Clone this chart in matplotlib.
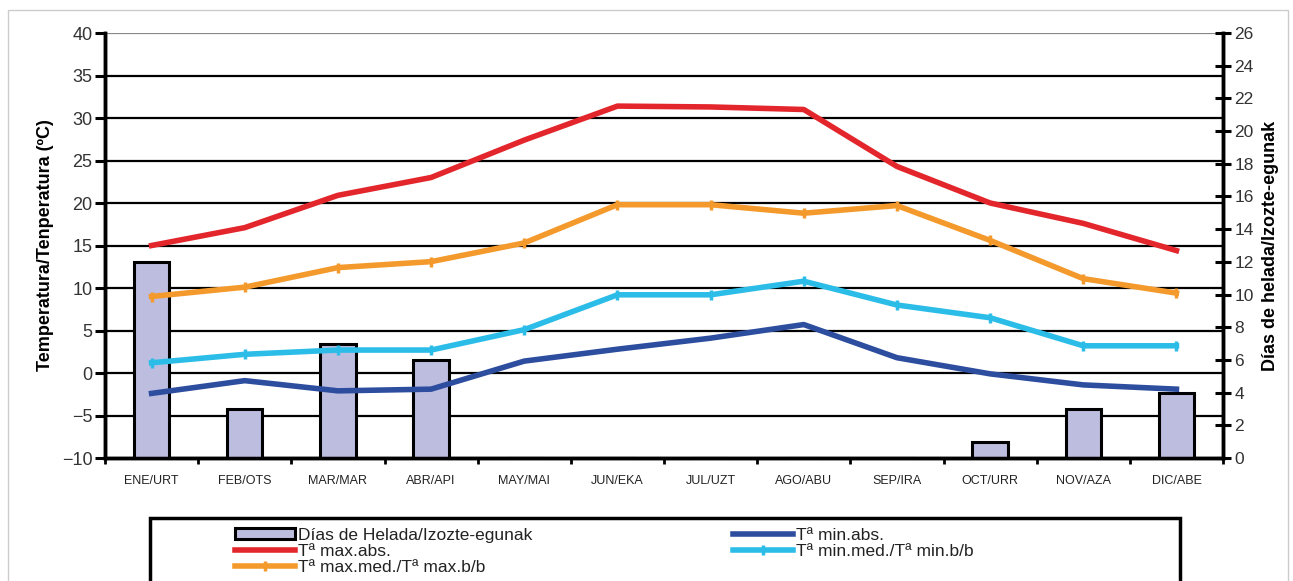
import numpy as np
import matplotlib.pyplot as plt
from matplotlib.patches import Rectangle

plt.rcParams['font.family'] = ['Liberation Sans', 'DejaVu Sans']

# Months (Spanish/Basque)
months = ['ENE/URT', 'FEB/OTS', 'MAR/MAR', 'ABR/API', 'MAY/MAI', 'JUN/EKA',
          'JUL/UZT', 'AGO/ABU', 'SEP/IRA', 'OCT/URR', 'NOV/AZA', 'DIC/ABE']

# Frost days (right axis)
frost_days = [12, 3, 7, 6, 0, 0, 0, 0, 0, 1, 3, 4]

# Temperatures (left axis)
t_max_abs = [15.0, 17.1, 20.9, 23.0, 27.4, 31.4, 31.3, 31.0, 24.3, 20.0, 17.6, 14.4]
t_max_med = [9.0, 10.1, 12.4, 13.1, 15.3, 19.8, 19.8, 18.8, 19.7, 15.6, 11.1, 9.4]
t_min_med = [1.2, 2.2, 2.7, 2.7, 5.1, 9.2, 9.2, 10.8, 8.0, 6.5, 3.2, 3.2]
t_min_abs = [-2.4, -0.9, -2.1, -1.9, 1.4, 2.8, 4.1, 5.7, 1.8, -0.1, -1.4, -1.9]

x = np.arange(len(months))

fig = plt.figure(figsize=(12.93, 5.81), dpi=100)
fig.patches.append(Rectangle((0.006, -0.1), 0.99, 1.083, transform=fig.transFigure,
                             fill=False, edgecolor='#cccccc', linewidth=1))

ax1 = fig.add_axes([0.0812, 0.2117, 0.8647, 0.7315])
ax2 = ax1.twinx()

# temperature grid
ax1.set_ylim(-10, 40)
ax1.set_yticks(np.arange(-10, 41, 5))
for v in np.arange(-5, 41, 5):
    ax1.axhline(v, color='#888888' if v == 40 else 'black', linewidth=1.6, zorder=0)

# frost day bars
bars = ax2.bar(x, frost_days, width=0.38, color='#bdbde0', edgecolor='black',
               linewidth=2.2, zorder=2)

# temperature lines, drawn above the bars
lred, = ax2.plot(x, t_max_abs, color='#e3262b', linewidth=4, transform=ax1.transData,
                 zorder=3)
lora, = ax2.plot(x, t_max_med, color='#f49a2c', linewidth=4, marker='|', markersize=7,
                 markeredgewidth=2.5, transform=ax1.transData, zorder=3)
lcya, = ax2.plot(x, t_min_med, color='#2bbde8', linewidth=4, marker='|', markersize=7,
                 markeredgewidth=2.5, transform=ax1.transData, zorder=3)
lblu, = ax2.plot(x, t_min_abs, color='#2d4d9f', linewidth=4, transform=ax1.transData,
                 zorder=3)

ax2.set_ylim(0, 26)
ax2.set_yticks(np.arange(0, 27, 2))
ax1.set_xlim(-0.5, 11.5)

# x ticks: marks between months, labels at centres
ax1.set_xticks(np.arange(-0.5, 12, 1))
ax1.set_xticklabels([])
ax1.set_xticks(x, minor=True)
ax1.set_xticklabels(months, minor=True, fontsize=9, color='#222222')
ax1.tick_params(axis='x', which='major', direction='out', length=4, width=2)
ax1.tick_params(axis='x', which='minor', length=0, pad=12)
ax1.tick_params(axis='y', direction='out', length=7, width=2.2, labelsize=13,
                labelcolor='#333333', pad=2)
ax2.tick_params(axis='y', direction='inout', length=12, width=2.2, labelsize=12.5,
                labelcolor='#333333', pad=2)
ax2.tick_params(axis='x', length=0)

for ax in (ax1, ax2):
    ax.spines['top'].set_visible(False)
    for s in ('left', 'right', 'bottom'):
        ax.spines[s].set_linewidth(2.5)

ax1.set_ylabel('Temperatura/Tenperatura (ºC)', fontsize=13, fontweight='bold', labelpad=6)
ax2.set_ylabel('Días de helada/Izozte-egunak', fontsize=13, fontweight='bold', labelpad=6)

# legend box, cut by the bottom edge like the original
fig.patches.append(Rectangle((150 / 1293, -0.05), 1030 / 1293, 1 - 518 / 581 + 0.05,
                             transform=fig.transFigure, fill=False,
                             edgecolor='black', linewidth=2.5))
handles = [bars, lred, lora, lblu, lcya]
labels = ['Días de Helada/Izozte-egunak', 'Tª max.abs.', 'Tª max.med./Tª max.b/b',
          'Tª min.abs.', 'Tª min.med./Tª min.b/b']
leg = fig.legend(handles, labels, ncol=2, loc='upper left',
                 bbox_to_anchor=(235 / 1293, 1 - 528 / 581), frameon=False,
                 fontsize=12.5, handlelength=3.45, handletextpad=0.15, labelspacing=0.05,
                 borderaxespad=0, borderpad=0, columnspacing=11.6, handleheight=0.6)
for t in leg.get_texts():
    t.set_color('#222222')

fig.savefig('out.png', dpi=100)
